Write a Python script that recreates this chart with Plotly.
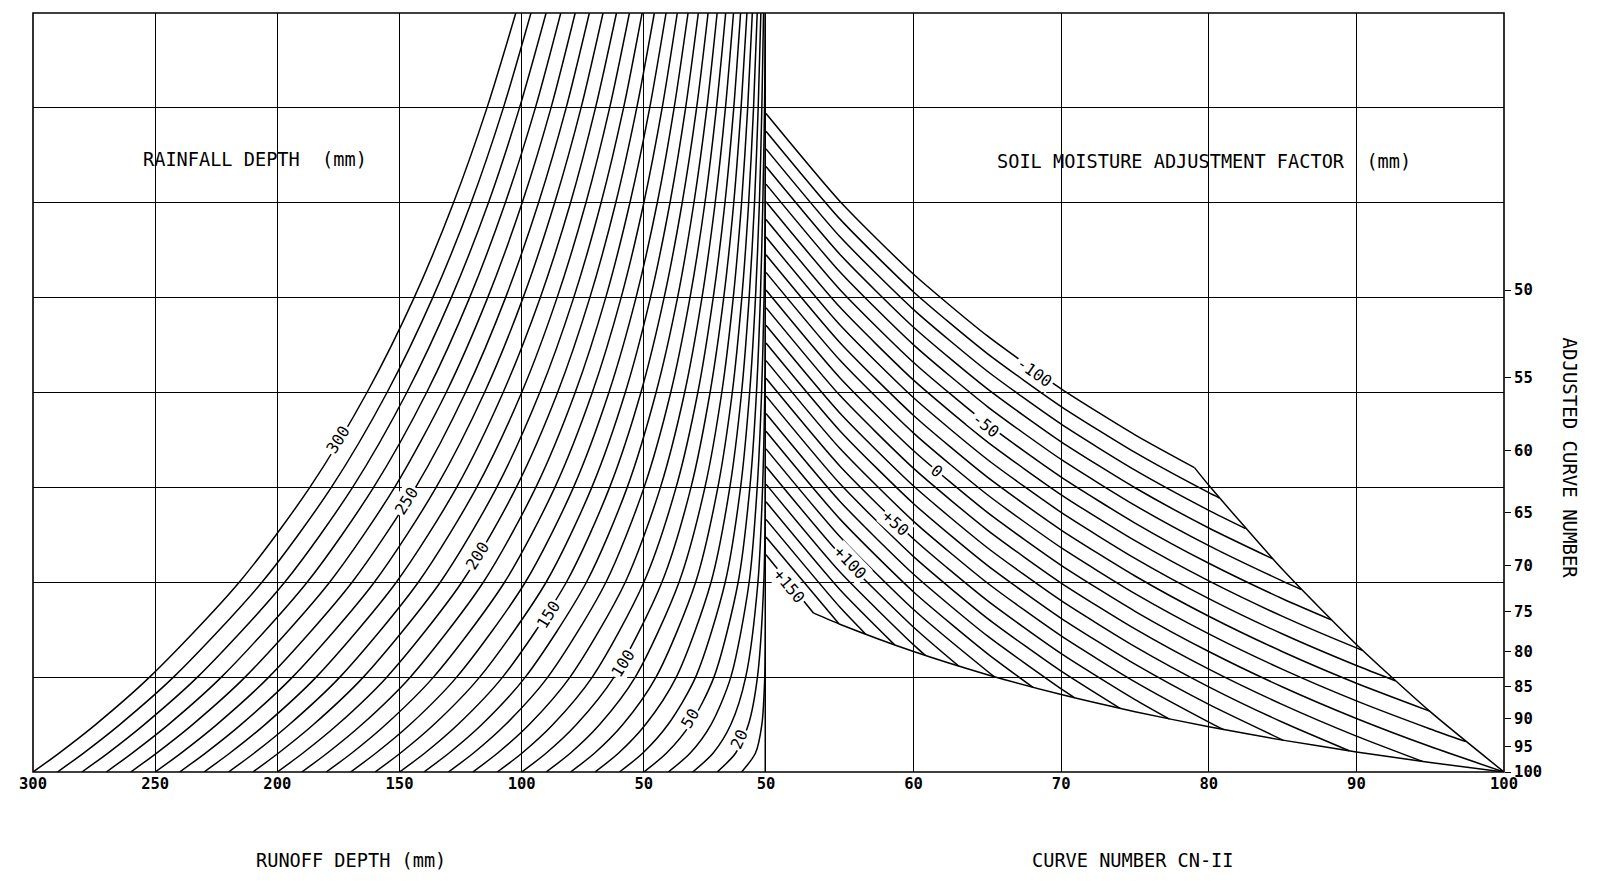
import plotly.graph_objects as go

# ---------------- Left panel: rainfall depth curves ----------------
rainfall_depths = [10, 20, 30, 40, 50, 60, 70, 80, 90, 100,
                   110, 120, 130, 140, 150, 160, 170, 180, 190, 200,
                   210, 220, 230, 240, 250, 260, 270, 280, 290, 300]

# retention levels (mm) on the shared vertical scale
retention_levels = [0, 10, 25, 50, 100, 150, 200, 250, 300, 350, 400]

# runoff depth (mm) of every rainfall curve at each retention level (None = curve has ended)
runoff_s0 = [10, 20, 30, 40, 50, 60, 70, 80, 90, 100, 110, 120, 130, 140, 150,
             160, 170, 180, 190, 200, 210, 220, 230, 240, 250, 260, 270, 280, 290, 300]
runoff_s10 = [4.3, 12.4, 21.6, 31.0, 40.7, 50.4, 60.3, 70.1, 80.0, 89.9, 99.8, 109.8, 119.7, 129.7, 139.6,
              149.6, 159.6, 169.5, 179.5, 189.5, 199.5, 209.4, 219.4, 229.4, 239.4, 249.4, 259.4, 269.3, 279.3, 289.3]
runoff_s25 = [1.7, 7.2, 14.4, 22.5, 31.1, 40.1, 49.3, 58.6, 68.1, 77.6, 87.2, 96.9, 106.6, 116.3, 126.1,
              135.9, 145.7, 155.6, 165.4, 175.3, 185.2, 195.1, 205.0, 214.9, 224.8, 234.7, 244.6, 254.6, 264.5, 274.4]
runoff_s50 = [0.5, 3.5, 8.3, 14.4, 21.3, 28.8, 36.7, 45.0, 53.5, 62.2, 71.1, 80.2, 89.3, 98.5, 107.8,
              117.2, 126.6, 136.1, 145.6, 155.2, 164.8, 174.4, 184.1, 193.8, 203.5, 213.2, 222.9, 232.7, 242.5, 252.3]
runoff_s100 = [0.0, 0.9, 3.3, 6.9, 11.4, 16.7, 22.5, 28.8, 35.6, 42.6, 50.0, 57.6, 65.5, 73.5, 81.7,
               90.0, 98.5, 107.0, 115.7, 124.5, 133.3, 142.3, 151.3, 160.3, 169.4, 178.6, 187.8, 197.0, 206.3, 215.6]
runoff_s150 = [None, 0.2, 1.4, 3.6, 6.6, 10.4, 14.8, 19.7, 25.0, 30.7, 36.8, 43.2, 49.9, 56.8, 64.0,
               71.3, 78.8, 86.4, 94.2, 102.2, 110.2, 118.4, 126.6, 135.0, 143.4, 152.0, 160.6, 169.2, 177.9, 186.7]
runoff_s200 = [None, 0.0, 0.5, 1.8, 3.9, 6.7, 10.0, 13.8, 18.1, 22.9, 27.9, 33.3, 39.0, 45.0, 51.2,
               57.6, 64.3, 71.1, 78.1, 85.3, 92.6, 100.0, 107.6, 115.2, 123.0, 130.9, 138.9, 147.0, 155.1, 163.3]
runoff_s250 = [None, None, 0.1, 0.8, 2.3, 4.3, 6.9, 9.9, 13.4, 17.3, 21.6, 26.2, 31.1, 36.2, 41.7,
               47.3, 53.2, 59.3, 65.6, 72.1, 78.7, 85.5, 92.4, 99.4, 106.6, 113.9, 121.3, 128.8, 136.4, 144.0]
runoff_s300 = [None, None, 0.0, 0.3, 1.3, 2.7, 4.7, 7.1, 10.0, 13.2, 16.8, 20.8, 25.0, 29.5, 34.3,
               39.3, 44.5, 50.0, 55.7, 61.5, 67.5, 73.7, 80.0, 86.5, 93.1, 99.8, 106.7, 113.6, 120.7, 127.9]
runoff_s350 = [None, None, None, 0.1, 0.6, 1.7, 3.2, 5.1, 7.5, 10.2, 13.2, 16.6, 20.3, 24.2, 28.4,
               32.9, 37.6, 42.5, 47.6, 52.9, 58.3, 64.0, 69.8, 75.7, 81.8, 88.0, 94.4, 100.9, 107.5, 114.2]
runoff_s400 = [None, None, None, 0.0, 0.2, 1.0, 2.1, 3.6, 5.6, 7.8, 10.4, 13.3, 16.5, 20.0, 23.7,
               27.7, 31.9, 36.3, 40.9, 45.7, 50.7, 55.9, 61.2, 66.7, 72.3, 78.1, 84.0, 90.0, 96.2, 102.4]

runoff_rows = [runoff_s0, runoff_s10, runoff_s25, runoff_s50, runoff_s100, runoff_s150,
               runoff_s200, runoff_s250, runoff_s300, runoff_s350, runoff_s400]

# labels written on selected rainfall curves: text, runoff, retention, angle
rainfall_labels = ["300", "250", "200", "150", "100", "50", "20"]
rainfall_label_runoff = [175, 147, 118, 89, 58.5, 31, 11]
rainfall_label_retention = [175, 143, 114, 83, 57, 28, 17]
rainfall_label_angle = [-58, -58, -58, -58, -58, -60, -66]

# ---------------- Right panel: soil moisture adjustment lines ----------------
cn_levels = [50, 55, 60, 65, 70, 75, 80, 85, 90, 95]
adjustment_factors = [-100, -90, -80, -70, -60, -50, -40, -30, -20, -10, 0,
                      10, 20, 30, 40, 50, 60, 70, 80, 90, 100, 110, 120, 130, 140, 150]

# adjusted retention (mm) of each factor line at the CN-II levels above
adjusted_retention = [
    [347.0, 300.8, 262.3, 229.8, 201.9, 177.7],
    [337.7, 291.5, 253.0, 220.5, 192.6, 168.4, 147.2],
    [328.4, 282.2, 243.7, 211.2, 183.3, 159.1, 137.9],
    [319.1, 272.9, 234.4, 201.9, 174.0, 149.8, 128.6],
    [309.8, 263.6, 225.1, 192.6, 164.7, 140.5, 119.3, 100.6],
    [300.5, 254.3, 215.8, 183.3, 155.4, 131.2, 110.0, 91.3],
    [291.2, 245.0, 206.5, 174.0, 146.1, 121.9, 100.7, 82.0, 65.4],
    [281.9, 235.7, 197.2, 164.7, 136.8, 112.6, 91.4, 72.7, 56.1],
    [272.6, 226.4, 187.9, 155.4, 127.5, 103.3, 82.1, 63.4, 46.8],
    [263.3, 217.1, 178.6, 146.1, 118.2, 94.0, 72.8, 54.1, 37.5, 22.7],
    [254.0, 207.8, 169.3, 136.8, 108.9, 84.7, 63.5, 44.8, 28.2, 13.4],
    [244.7, 198.5, 160.0, 127.5, 99.6, 75.4, 54.2, 35.5, 18.9],
    [235.4, 189.2, 150.7, 118.2, 90.3, 66.1, 44.9, 26.2],
    [226.1, 179.9, 141.4, 108.9, 81.0, 56.8, 35.6],
    [216.8, 170.6, 132.1, 99.6, 71.7, 47.5, 26.3],
    [207.5, 161.3, 122.8, 90.3, 62.4, 38.2],
    [198.2, 152.0, 113.5, 81.0, 53.1],
    [188.9, 142.7, 104.2, 71.7, 43.8],
    [179.6, 133.4, 94.9, 62.4],
    [170.3, 124.1, 85.6, 53.1],
    [161.0, 114.8, 76.3],
    [151.7, 105.5, 67.0],
    [142.4, 96.2],
    [133.1, 86.9],
    [123.8],
    [114.5],
]
# where each factor line meets the upper or lower limit curve
line_end_cn = [79.03, 80.72, 82.49, 84.34, 86.27, 88.29, 90.40, 92.63, 94.96, 97.41, 100.0,
               94.47, 89.51, 85.05, 81.01, 77.34, 73.99, 70.92, 68.09, 65.48, 63.06,
               60.81, 58.72, 56.77, 54.94, 53.23]
line_end_retention = [160.4, 144.4, 128.3, 112.3, 96.2, 80.2, 64.2, 48.1, 32.1, 16.0, 0.0,
                      5.6, 11.2, 16.7, 22.3, 27.9, 33.5, 39.1, 44.6, 50.2, 55.8,
                      61.4, 67.0, 72.5, 78.1, 83.7]

# limit curves
upper_limit_cn = [79.03, 80, 85, 90, 95, 100]
upper_limit_retention = [160.4, 151.1, 106.7, 67.2, 31.8, 0.0]
lower_limit_cn = [53.23, 55, 60, 65, 70, 75, 80, 85, 90, 95, 100]
lower_limit_retention = [83.7, 77.9, 63.5, 51.3, 40.8, 31.8, 23.8, 16.8, 10.6, 5.0, 0.0]

factor_labels = ["-100", "-50", "0", "+50", "+100", "+150"]
factor_label_cn = [68.2, 64.9, 61.6, 58.8, 55.7, 51.6]
factor_label_retention = [210.5, 182.5, 158.5, 131.0, 110.5, 98.0]
factor_label_angle = [35, 38, 40, 42, 46, 50]

# axis ticks
runoff_ticks = [300, 250, 200, 150, 100, 50]
cn_ticks = [50, 60, 70, 80, 90, 100]
adjusted_cn_ticks = [50, 55, 60, 65, 70, 75, 80, 85, 90, 95, 100]
retention_grid = [0, 50, 100, 150, 200, 250, 300, 350, 400]

FONT = "DejaVu Sans Mono"
INK = "black"
LINE_W = 1.5

fig = go.Figure()

for i, p in enumerate(rainfall_depths):
    xs, ys = [], []
    for lvl, row in zip(retention_levels, runoff_rows):
        if row[i] is not None:
            xs.append(row[i])
            ys.append(lvl)
    fig.add_trace(go.Scatter(x=xs, y=ys, mode="lines", xaxis="x", yaxis="y",
                             line=dict(color=INK, width=LINE_W, shape="spline", smoothing=0.8),
                             hoverinfo="skip", showlegend=False, name=f"P={p}"))

for j, a in enumerate(adjustment_factors):
    vals = adjusted_retention[j]
    xs = cn_levels[:len(vals)] + [line_end_cn[j]]
    ys = vals + [line_end_retention[j]]
    fig.add_trace(go.Scatter(x=xs, y=ys, mode="lines", xaxis="x2", yaxis="y",
                             line=dict(color=INK, width=LINE_W, shape="spline", smoothing=0.6),
                             hoverinfo="skip", showlegend=False, name=f"A={a}"))

for xs, ys in [(upper_limit_cn, upper_limit_retention), (lower_limit_cn, lower_limit_retention)]:
    fig.add_trace(go.Scatter(x=xs, y=ys, mode="lines", xaxis="x2", yaxis="y",
                             line=dict(color=INK, width=LINE_W, shape="spline", smoothing=0.6),
                             hoverinfo="skip", showlegend=False))

# carrier for the adjusted curve number scale on the right
fig.add_trace(go.Scatter(x=[None], y=[None], xaxis="x2", yaxis="y2", showlegend=False))

label_font = dict(family=FONT, size=16, color=INK)
title_font = dict(family=FONT, size=18.6, color=INK)

annotations = []
for t, q, s, ang in zip(rainfall_labels, rainfall_label_runoff, rainfall_label_retention, rainfall_label_angle):
    annotations.append(dict(text=t, x=q, y=s, xref="x", yref="y", showarrow=False,
                            xanchor="center", yanchor="middle",
                            textangle=ang, bgcolor="white", borderpad=1, font=label_font))
for t, c, s, ang in zip(factor_labels, factor_label_cn, factor_label_retention, factor_label_angle):
    annotations.append(dict(text=t, x=c, y=s, xref="x2", yref="y", showarrow=False,
                            xanchor="center", yanchor="middle",
                            textangle=ang, bgcolor="white", borderpad=1, font=label_font))

annotations += [
    dict(text="RAINFALL DEPTH  (mm)", x=209, y=323, xref="x", yref="y", showarrow=False,
         xanchor="center", yanchor="middle", font=title_font),
    dict(text="SOIL MOISTURE ADJUSTMENT FACTOR  (mm)", x=79.7, y=322, xref="x2", yref="y",
         showarrow=False, xanchor="center", yanchor="middle", font=title_font),
    dict(text="RUNOFF DEPTH (mm)", x=0.2162, y=-0.117, xref="paper", yref="paper", showarrow=False,
         xanchor="center", yanchor="middle", font=title_font),
    dict(text="CURVE NUMBER CN-II", x=0.7478, y=-0.117, xref="paper", yref="paper", showarrow=False,
         xanchor="center", yanchor="middle", font=title_font),
    dict(text="ADJUSTED CURVE NUMBER", x=1.045, y=0.414, xref="paper", yref="paper",
         showarrow=False, xanchor="center", yanchor="middle", textangle=90,
         font=dict(family=FONT, size=19, color=INK)),
]

split = 733 / 1471
tick_font = dict(family=FONT, size=15.5, color=INK, weight="bold")

fig.update_layout(
    width=1597, height=881,
    margin=dict(l=33, r=93, t=13, b=109),
    paper_bgcolor="white", plot_bgcolor="white",
    showlegend=False,
    annotations=annotations,
    xaxis=dict(domain=[0, split], range=[300, 0], anchor="y",
               tickvals=runoff_ticks, ticks="", tickfont=tick_font,
               showgrid=True, gridcolor=INK, gridwidth=1, zeroline=False, showline=False),
    xaxis2=dict(domain=[split, 1], range=[50, 100], anchor="y",
                tickvals=cn_ticks, ticks="", tickfont=tick_font,
                showgrid=True, gridcolor=INK, gridwidth=1, zeroline=False, showline=False),
    yaxis=dict(range=[0, 400], tickvals=retention_grid, showticklabels=False, ticks="",
               showgrid=True, gridcolor=INK, gridwidth=1, zeroline=False, showline=False),
    yaxis2=dict(range=[0, 400], overlaying="y", anchor="x2", side="right",
                tickvals=[25400 / c - 254 for c in adjusted_cn_ticks],
                ticktext=[str(c) for c in adjusted_cn_ticks],
                ticks="outside", ticklen=6, tickcolor=INK, tickfont=tick_font,
                showgrid=False, zeroline=False, showline=False),
    shapes=[
        dict(type="rect", xref="paper", yref="paper", x0=0, x1=1, y0=0, y1=1,
             line=dict(color=INK, width=1.6)),
        dict(type="line", xref="x", yref="paper", x0=0, x1=0, y0=0, y1=1,
             line=dict(color=INK, width=3)),
    ],
)

fig.write_html("out.html")
